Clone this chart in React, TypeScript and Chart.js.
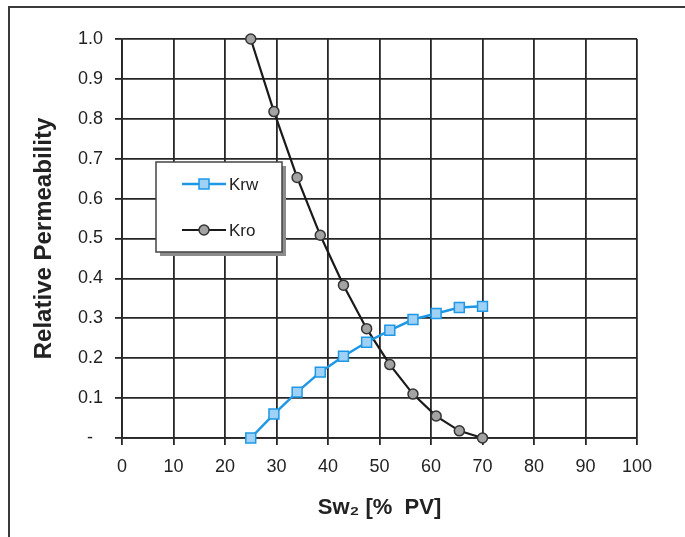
import React, { useEffect, useRef } from "react";
import { Chart, registerables } from "chart.js";

Chart.register(...registerables);

const swValues = [25, 29.5, 34, 38.5, 43, 47.5, 52, 56.5, 61, 65.5, 70];
const krwValues = [0, 0.06, 0.115, 0.165, 0.205, 0.24, 0.27, 0.297, 0.312, 0.327, 0.33];
const kroValues = [1.0, 0.818, 0.653, 0.508, 0.383, 0.274, 0.184, 0.11, 0.055, 0.018, 0.0];
const xTickLabels = ["0", "10", "20", "30", "40", "50", "60", "70", "80", "90", "100"];
const yTickLabels = ["-  ", "0.1", "0.2", "0.3", "0.4", "0.5", "0.6", "0.7", "0.8", "0.9", "1.0"];
const seriesNames = ["Krw", "Kro"];

const FONT = "'Liberation Sans', Arial, sans-serif";
const GRID = "#262626";
const KRW_LINE = "#1e98e6";
const KRW_FILL = "#9fd0f6";
const KRO_LINE = "#1a1a1a";
const KRO_FILL = "#a3a3a3";

const framePlugin = {
  id: "frame",
  beforeDraw(chart: any) {
    const ctx = chart.ctx;
    ctx.save();
    ctx.fillStyle = "#ffffff";
    ctx.fillRect(0, 0, chart.width, chart.height);
    ctx.strokeStyle = "#3a3a3a";
    ctx.lineWidth = 2;
    ctx.strokeRect(9, 7, chart.width + 40, chart.height + 40);
    ctx.restore();
  },
};

const legendPlugin = {
  id: "boxLegend",
  afterDatasetsDraw(chart: any) {
    const ctx = chart.ctx;
    const bx = 156, by = 162, bw = 126, bh = 90;
    ctx.save();
    ctx.fillStyle = "#8c8c8c";
    ctx.fillRect(bx + 4, by + 4, bw, bh);
    ctx.fillStyle = "#ffffff";
    ctx.fillRect(bx, by, bw, bh);
    ctx.strokeStyle = "#444";
    ctx.lineWidth = 1.5;
    ctx.strokeRect(bx, by, bw, bh);

    const rows = [
      { y: 184, name: seriesNames[0], line: KRW_LINE, fill: KRW_FILL, rect: true, lw: 2.5 },
      { y: 230, name: seriesNames[1], line: KRO_LINE, fill: KRO_FILL, rect: false, lw: 2.2 },
    ];
    for (const r of rows) {
      ctx.strokeStyle = r.line;
      ctx.lineWidth = r.lw;
      ctx.beginPath();
      ctx.moveTo(182, r.y);
      ctx.lineTo(226, r.y);
      ctx.stroke();
      ctx.fillStyle = r.fill;
      ctx.strokeStyle = r.rect ? r.line : "#333";
      ctx.lineWidth = 1.5;
      ctx.beginPath();
      if (r.rect) {
        ctx.rect(199, r.y - 5, 10, 10);
      } else {
        ctx.arc(204, r.y, 5, 0, Math.PI * 2);
      }
      ctx.fill();
      ctx.stroke();
      ctx.fillStyle = "#222";
      ctx.font = `17px ${FONT}`;
      ctx.textBaseline = "middle";
      ctx.textAlign = "left";
      ctx.fillText(r.name, 229, r.y + 1);
    }
    ctx.restore();
  },
};

export default function App() {
  const ref = useRef<HTMLCanvasElement | null>(null);

  useEffect(() => {
    if (!ref.current) return;
    const chart = new Chart(ref.current, {
      type: "scatter",
      data: {
        datasets: [
          {
            label: seriesNames[0],
            data: swValues.map((x, i) => ({ x, y: krwValues[i] })),
            showLine: true,
            clip: false,
            borderColor: KRW_LINE,
            backgroundColor: KRW_FILL,
            borderWidth: 2.5,
            pointStyle: "rect",
            pointRadius: 7,
            pointBorderWidth: 1.5,
            pointBorderColor: KRW_LINE,
            pointBackgroundColor: KRW_FILL,
          },
          {
            label: seriesNames[1],
            data: swValues.map((x, i) => ({ x, y: kroValues[i] })),
            showLine: true,
            clip: false,
            borderColor: KRO_LINE,
            backgroundColor: KRO_FILL,
            borderWidth: 2.2,
            pointStyle: "circle",
            pointRadius: 5,
            pointBorderWidth: 1.5,
            pointBorderColor: "#333",
            pointBackgroundColor: KRO_FILL,
          },
        ],
      },
      options: {
        animation: false,
        responsive: false,
        layout: { padding: { left: 0, top: 39, right: 48, bottom: 0 } },
        plugins: { legend: { display: false }, tooltip: { enabled: false } },
        scales: {
          x: {
            type: "linear",
            min: 0,
            max: 100,
            afterFit: (s: any) => { s.height = 99; },
            ticks: {
              stepSize: 10,
              padding: 11,
              color: "#222",
              font: { family: FONT, size: 18 },
              callback: (_v: any, i: number) => xTickLabels[i],
            },
            grid: { color: GRID, lineWidth: 1.8, tickLength: 7, drawTicks: true },
            border: { display: true, color: GRID, width: 1.8 },
            title: {
              display: true,
              text: "Sw₂ [%  PV]",
              color: "#222",
              font: { family: FONT, size: 22, weight: "bold" },
              padding: { top: 0, bottom: 16 },
            },
          },
          y: {
            type: "linear",
            min: 0,
            max: 1,
            afterFit: (s: any) => { s.width = 122; },
            ticks: {
              stepSize: 0.1,
              padding: 12,
              color: "#222",
              font: { family: FONT, size: 18 },
              callback: (_v: any, i: number) => yTickLabels[i],
            },
            grid: { color: GRID, lineWidth: 1.8, tickLength: 7, drawTicks: true },
            border: { display: true, color: GRID, width: 1.8 },
            title: {
              display: true,
              text: "Relative Permeability",
              color: "#222",
              font: { family: FONT, size: 24, weight: "bold" },
              padding: { top: 30, bottom: 0 },
            },
          },
        },
      },
      plugins: [framePlugin, legendPlugin],
    });
    return () => chart.destroy();
  }, []);

  return (
    <div style={{ position: "fixed", left: 0, top: 0, width: 685, height: 537 }}>
      <canvas ref={ref} width={685} height={537} />
    </div>
  );
}
